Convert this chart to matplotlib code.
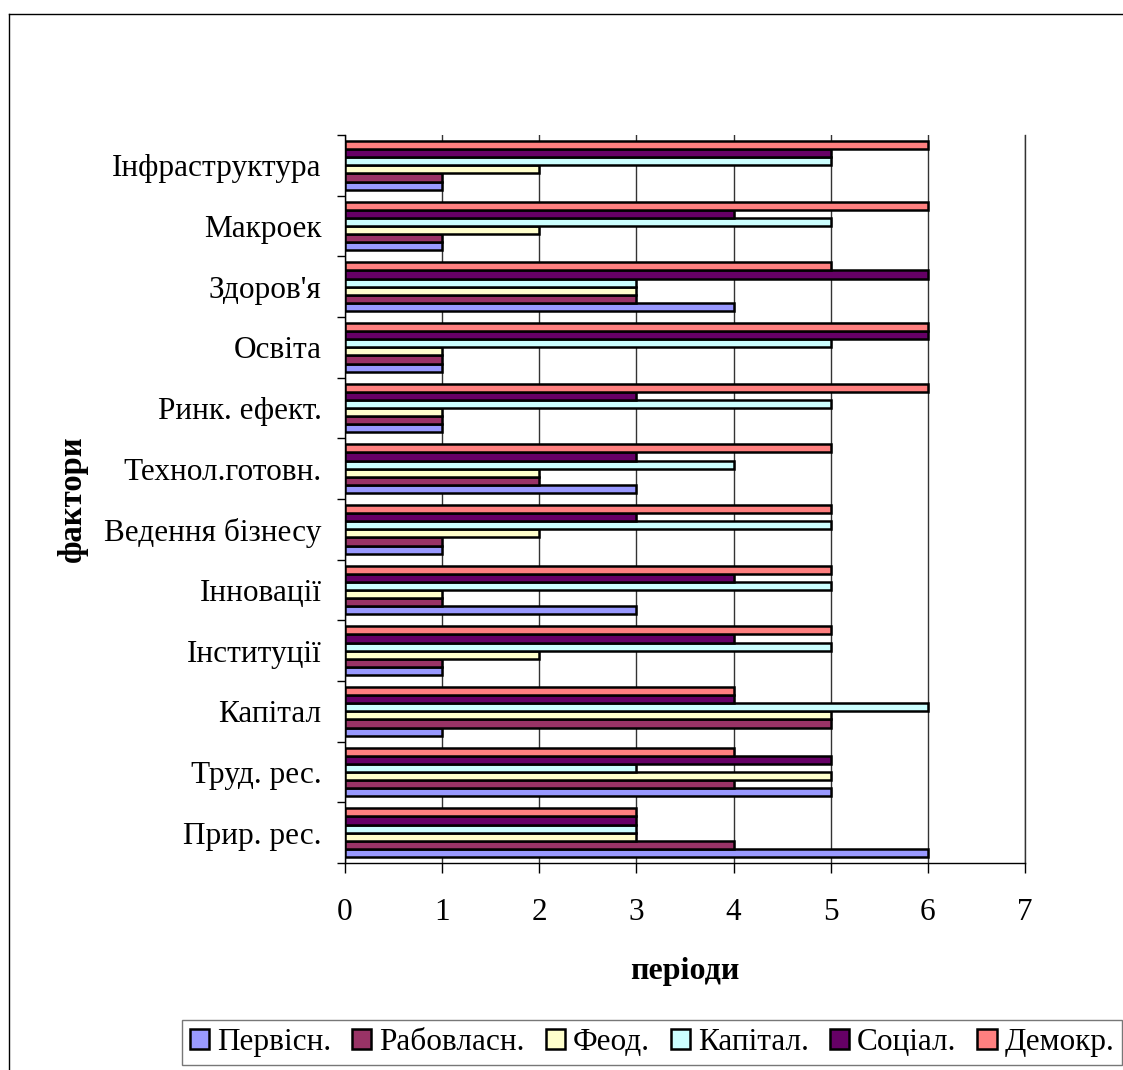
import numpy as np
import matplotlib.pyplot as plt
from matplotlib.patches import Patch
from matplotlib.lines import Line2D

# factors, listed bottom to top as they appear on the axis
factors = ["Прир. рес.", "Труд. рес.", "Капітал", "Інституції", "Інновації",
           "Ведення бізнесу", "Технол.готовн.", "Ринк. ефект.", "Освіта",
           "Здоров'я", "Макроек", "Інфраструктура"]

periods = ["Первісн.", "Рабовласн.", "Феод.", "Капітал.", "Соціал.", "Демокр."]

pervisn = [6, 5, 1, 1, 3, 1, 3, 1, 1, 4, 1, 1]
rabovlasn = [4, 4, 5, 1, 1, 1, 2, 1, 1, 3, 1, 1]
feod = [3, 5, 5, 2, 1, 2, 2, 1, 1, 3, 2, 2]
kapital = [3, 3, 6, 5, 5, 5, 4, 5, 5, 3, 5, 5]
sotsial = [3, 5, 4, 4, 4, 3, 3, 3, 6, 6, 4, 5]
demokr = [3, 4, 4, 5, 5, 5, 5, 6, 6, 5, 6, 6]

series = [pervisn, rabovlasn, feod, kapital, sotsial, demokr]
colors = ["#9999FF", "#993366", "#FFFFCC", "#CCFFFF", "#660066", "#FF8080"]

plt.rcParams['font.family'] = ['Liberation Serif', 'DejaVu Serif']
FS = 22.5

W, H = 1123, 1070
fig = plt.figure(figsize=(W / 100, H / 100), dpi=100)

# plot area in pixel coordinates
x0, x1, ytop, ybot = 345, 1025, 135, 863
ax = fig.add_axes([x0 / W, (H - ybot) / H, (x1 - x0) / W, (ybot - ytop) / H])

y = np.arange(len(factors))
h = 1 / 7.5
for k, (vals, c) in enumerate(zip(series, colors)):
    ax.barh(y + (k - 2.5) * h, vals, height=h, color=c, edgecolor='black',
            linewidth=1.8, label=periods[k], zorder=3)

ax.set_xlim(0, 7)
ax.set_ylim(-0.5, len(factors) - 0.5)

ax.set_xticks(range(8))
ax.tick_params(axis='x', direction='out', length=7, width=1, pad=18,
               labelsize=FS)
ax.xaxis.grid(True, color='#333333', linewidth=1, zorder=0)

# labels at group centres, ticks at group boundaries
ax.set_yticks(np.arange(-0.5, len(factors), 1))
ax.set_yticklabels([])
ax.set_yticks(y, minor=True)
ax.set_yticklabels(factors, minor=True, fontsize=FS)
ax.tick_params(axis='y', which='major', direction='out', length=6, width=1)
ax.tick_params(axis='y', which='minor', length=0, pad=17)

ax.spines['top'].set_visible(False)
ax.spines['right'].set_color('#333333')
for s in ['left', 'bottom', 'right']:
    ax.spines[s].set_linewidth(1)

ax.set_xlabel("періоди", fontsize=23, fontweight='bold', labelpad=22)
ax.set_ylabel("фактори", fontsize=23.5, fontweight='bold')
ax.yaxis.set_label_coords(-(x0 - 88) / (x1 - x0), 0.5)

# outer chart frame
fig.add_artist(Line2D([9 / W, 9 / W], [0, (H - 14) / H], color='black',
                      linewidth=1, transform=fig.transFigure))
fig.add_artist(Line2D([9 / W, 1], [(H - 14) / H, (H - 14) / H],
                      color='black', linewidth=1, transform=fig.transFigure))

handles = [Patch(facecolor=c, edgecolor='black', linewidth=1.8) for c in colors]
leg = fig.legend(handles, periods, loc='lower left',
                 bbox_to_anchor=(182 / W, 5 / H), ncol=6, fontsize=FS,
                 frameon=True, fancybox=False, edgecolor='#555555',
                 handlelength=0.62, handleheight=0.62, handletextpad=0.26,
                 columnspacing=0.66, borderpad=0.25, borderaxespad=0)
leg.get_frame().set_linewidth(1)

fig.savefig("out.png", dpi=100)
